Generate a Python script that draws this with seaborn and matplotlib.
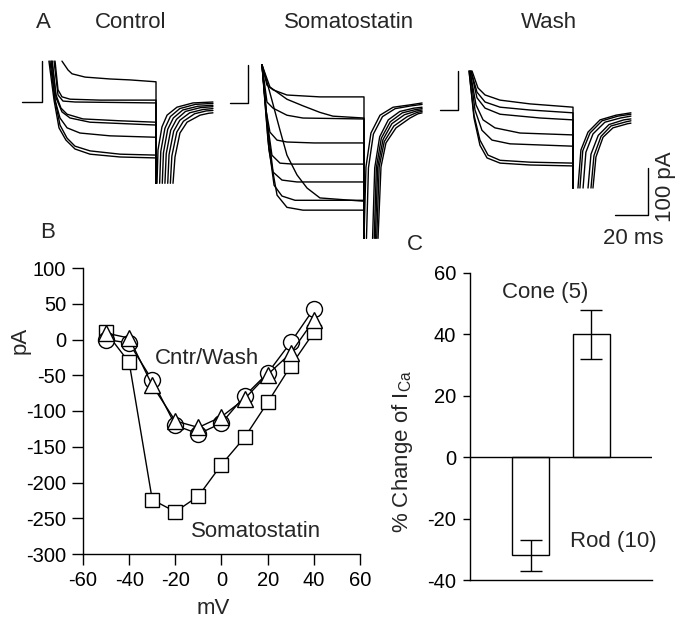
import numpy as np
import pandas as pd
import matplotlib
matplotlib.use("Agg")
import matplotlib.pyplot as plt
import seaborn as sns

sns.set_theme(style="white")
plt.rcParams['font.family'] = ['Liberation Sans', 'DejaVu Sans']
plt.rcParams['mathtext.fontset'] = 'custom'
plt.rcParams['mathtext.rm'] = 'Liberation Sans'
plt.rcParams['mathtext.it'] = 'Liberation Sans'
plt.rcParams['axes.unicode_minus'] = False

# ---------------- Panel B data (I-V relation) ----------------
mv = [-50, -40, -30, -20, -10, 0, 10, 20, 30, 40]
cntr_pa = [0, -5, -57, -120, -132, -117, -79, -47, -4, 43]
wash_pa = [9, 2, -64, -114, -123, -108, -83, -49, -19, 27]
soma_pa = [10, -32, -224, -241, -219, -175, -137, -88, -37, 10]
b_xticks = [-60, -40, -20, 0, 20, 40, 60]
b_yticks = [-300, -250, -200, -150, -100, -50, 0, 50, 100]

# ---------------- Panel C data ----------------
cells = ["Rod", "Cone"]
pct_change = [-32, 40]
pct_sem = [5, 8]
c_yticks = [-40, -20, 0, 20, 40, 60]

# ---------------- Panel A data (currents, ms / pA) ----------------
# Control
ctrl_base_t = [-12, 0, 0]
ctrl_base_i = [0, 0, 87]
ctrl_t = [
    [12.1, 15.8, 18.2, 26.1, 41.2, 53.3, 69.1],
    [7.9, 9.7, 12.1, 17.0, 35.2, 69.1],
    [7.3, 9.7, 12.7, 20.0, 69.1],
    [6.1, 8.5, 11.5, 15.2, 24.8, 47.3, 69.1],
    [6.1, 8.5, 12.1, 17.0, 29.1, 69.1],
    [5.5, 7.9, 10.9, 15.2, 23.0, 41.2, 69.1],
    [4.8, 7.9, 10.9, 15.2, 20.0, 29.1, 47.3, 69.1],
    [4.2, 7.3, 10.3, 14.5, 20.0, 29.1, 47.3, 69.1],
]
ctrl_i = [
    [87, 68, 60, 53, 49, 47, 43],
    [87, 26, 11, 6, 4, 4],
    [87, 15, 2, 0, -2],
    [87, 15, -13, -26, -36, -40, -43],
    [87, 9, -21, -34, -43, -49],
    [87, 4, -34, -55, -66, -72, -75],
    [87, 4, -49, -77, -94, -104, -111, -113],
    [87, 4, -55, -81, -100, -111, -117, -119],
]
ctrl_end_t, ctrl_clip = 69.1, -173
ctrl_tail_t = [
    [69.7, 70.3, 72.7, 75.8, 81.8, 91.5, 103.6],
    [71.3, 72.0, 74.5, 77.8, 83.5, 93.0, 103.6],
    [72.9, 73.6, 76.2, 79.6, 85.3, 94.5, 103.6],
    [74.5, 75.3, 78.0, 81.5, 87.0, 96.0, 103.6],
    [76.2, 77.0, 79.8, 83.5, 89.5, 97.5, 103.6],
    [77.8, 78.7, 81.7, 85.7, 92.5, 99.5, 103.6],
    [79.4, 80.6, 83.6, 87.9, 95.8, 101.0, 103.6],
]
ctrl_tail_i = [
    [-173, -102, -53, -28, -11, -2, 0],
    [-173, -105, -56, -31, -14, -5, -3],
    [-173, -108, -58, -34, -17, -9, -7],
    [-173, -110, -60, -37, -20, -12, -10],
    [-173, -112, -62, -39, -23, -16, -14],
    [-173, -115, -64, -41, -25, -19, -18],
    [-173, -117, -66, -43, -28, -24, -23],
]

# Somatostatin
soma_base_t = [-11, 0, 0]
soma_base_i = [0, 0, 81]
soma_t = [
    [8.5, 11.5, 15.2, 23.6, 43.6, 70.3],
    [8.5, 13.3, 23.6, 33.3, 43.6, 51.5, 70.3],
    [8.5, 11.5, 15.2, 23.6, 33.3, 70.3],
    [8.5, 10.9, 13.3, 17.6, 23.6, 40.0, 70.3],
    [8.5, 11.5, 14.5, 19.4, 27.3, 70.3],
    [8.5, 12.1, 15.2, 20.6, 29.7, 70.3],
    [8.5, 12.1, 15.8, 20.6, 28.5, 70.3],
    [8.5, 10.3, 14.5, 19.4, 23.6, 29.7, 35.8, 43.6, 70.3],
    [8.5, 12.7, 17.6, 23.6, 33.3, 70.3],
]
soma_i = [
    [81, 38, 28, 17, 13, 13],
    [81, 34, 8, -6, -20, -28, -32],
    [81, 2, -11, -26, -32, -34],
    [81, -15, -62, -79, -83, -85, -85],
    [81, -36, -111, -128, -130, -130],
    [81, -58, -147, -164, -168, -168],
    [81, -79, -175, -198, -207, -207],
    [81, 60, 6, -58, -111, -153, -181, -202, -209],
    [81, -100, -196, -222, -228, -228],
]
soma_end_t, soma_clip = 70.3, -288
soma_tail_t = [
    [70.3, 71.5, 74.5, 80.0, 87.9, 98.2, 105.5],
    [71.8, 73.0, 76.0, 81.5, 89.2, 99.0, 105.5],
    [75.5, 76.8, 79.8, 85.0, 92.0, 100.5, 105.5],
    [76.5, 77.8, 80.8, 86.2, 93.5, 101.5, 105.5],
    [77.2, 78.6, 81.8, 87.2, 94.8, 102.0, 105.5],
    [78.0, 79.5, 82.6, 88.4, 96.5, 102.5, 105.5],
    [78.8, 80.6, 83.6, 89.7, 98.2, 103.0, 105.5],
]
soma_tail_i = [
    [-288, -136, -64, -26, -9, -4, 0],
    [-288, -138, -66, -29, -12, -6, -3],
    [-288, -138, -72, -36, -18, -11, -9],
    [-288, -137, -75, -40, -21, -14, -12],
    [-288, -137, -78, -44, -25, -17, -15],
    [-288, -136, -82, -49, -29, -20, -18],
    [-288, -136, -85, -53, -32, -23, -21],
]

# Wash
wash_base_t = [-11, 0, 0]
wash_base_i = [0, 0, 83]
wash_t = [
    [8.5, 12.1, 16.4, 25.5, 43.6, 69.7],
    [7.9, 11.5, 16.4, 25.5, 43.6, 69.7],
    [7.9, 11.5, 16.4, 25.5, 49.7, 69.7],
    [7.3, 10.9, 15.2, 22.4, 37.6, 69.7],
    [7.3, 10.3, 14.5, 20.6, 31.5, 69.7],
    [6.7, 9.7, 13.3, 18.2, 25.5, 43.6, 69.7],
    [6.7, 9.7, 13.3, 17.6, 25.5, 43.6, 69.7],
]
wash_i = [
    [83, 47, 32, 21, 13, 6],
    [83, 38, 17, 6, 0, -6],
    [83, 26, 4, -9, -17, -21],
    [83, 11, -21, -38, -49, -53],
    [83, 0, -43, -64, -72, -77],
    [83, -11, -64, -96, -107, -111, -113],
    [83, -17, -75, -102, -113, -117, -119],
]
wash_end_t, wash_clip = 69.7, -166
wash_tail_t = [
    [72.7, 74.5, 78.8, 86.1, 95.8, 104.8],
    [73.9, 75.6, 80.0, 87.3, 97.0, 104.8],
    [75.8, 77.5, 81.8, 89.0, 98.5, 104.8],
    [78.8, 80.6, 85.0, 91.5, 100.5, 104.8],
    [80.6, 82.4, 86.7, 92.7, 102.0, 104.8],
    [81.8, 83.6, 87.9, 93.9, 103.0, 104.8],
]
wash_tail_i = [
    [-166, -85, -47, -21, -11, -6],
    [-166, -87, -49, -23, -13, -9],
    [-166, -90, -51, -26, -17, -13],
    [-166, -94, -54, -31, -21, -19],
    [-166, -97, -56, -34, -25, -23],
    [-166, -100, -58, -38, -29, -28],
]

scale_ms = 20
scale_pa = 100

# ---------------- Figure ----------------
W, H = 686, 620
fig = plt.figure(figsize=(W / 100, H / 100), dpi=100)
FS = 16
TFS = 14.5
PX_PER_MS = 33 / 20.0
PX_PER_PA = 47 / 100.0


def trace_axes(x0, y0, tlim, ilim):
    left = x0 + tlim[0] * PX_PER_MS
    right = x0 + tlim[1] * PX_PER_MS
    top = y0 - ilim[1] * PX_PER_PA
    bottom = y0 - ilim[0] * PX_PER_PA
    ax = fig.add_axes([left / W, 1 - bottom / H, (right - left) / W, (bottom - top) / H])
    ax.set_xlim(tlim)
    ax.set_ylim(ilim)
    ax.axis('off')
    ax.patch.set_alpha(0)
    return ax


def build_df(base_t, base_i, tr_t, tr_i, end_t, clip, tail_t, tail_i):
    rows = []
    uid = 0
    for t, i in zip(base_t, base_i):
        rows.append((uid, t, i))
    uid += 1
    for ts, is_ in zip(tr_t, tr_i):
        for t, i in zip(ts, is_):
            rows.append((uid, t, i))
        rows.append((uid, end_t, clip))
        uid += 1
    for ts, is_ in zip(tail_t, tail_i):
        for t, i in zip(ts, is_):
            rows.append((uid, t, i))
        uid += 1
    return pd.DataFrame(rows, columns=["id", "t", "I"])


groups = [
    (42, 102, (-15, 110), ctrl_base_t, ctrl_base_i, ctrl_t, ctrl_i, ctrl_end_t, ctrl_clip, ctrl_tail_t, ctrl_tail_i),
    (248, 103, (-15, 110), soma_base_t, soma_base_i, soma_t, soma_i, soma_end_t, soma_clip, soma_tail_t, soma_tail_i),
    (458, 110, (-15, 135), wash_base_t, wash_base_i, wash_t, wash_i, wash_end_t, wash_clip, wash_tail_t, wash_tail_i),
]
trace_axs = []
for (x0, y0, tlim, bt, bi, tt, ti, et, cl, tlt, tli) in groups:
    ax = trace_axes(x0, y0, tlim, (-300, 100))
    df = build_df(bt, bi, tt, ti, et, cl, tlt, tli)
    sns.lineplot(data=df, x="t", y="I", units="id", estimator=None, sort=False,
                 color="black", lw=1.0, ax=ax)
    ax.axis('off')
    trace_axs.append(ax)

# scale bar in wash axes
axw = trace_axs[2]
corner_t, corner_i = 115.2, -223.6
axw.plot([corner_t - scale_ms, corner_t, corner_t],
         [corner_i, corner_i, corner_i + scale_pa], color="black", lw=1.0)
axw.text(corner_t + 10.5, corner_i + scale_pa * 0.6, f"{scale_pa} pA", rotation=90,
         ha="center", va="center", fontsize=FS)
axw.text(corner_t - 9, corner_i - 50, f"{scale_ms} ms", ha="center", va="center", fontsize=FS)

# titles
fig.text(43 / W, 1 - 22 / H, "A", ha="center", va="center", fontsize=FS)
fig.text(131 / W, 1 - 22 / H, "Control", ha="center", va="center", fontsize=FS)
fig.text(349 / W, 1 - 22 / H, "Somatostatin", ha="center", va="center", fontsize=FS)
fig.text(549 / W, 1 - 22 / H, "Wash", ha="center", va="center", fontsize=FS)
fig.text(48 / W, 1 - 232 / H, "B", ha="center", va="center", fontsize=FS)
fig.text(415 / W, 1 - 245 / H, "C", ha="center", va="center", fontsize=FS)

# ---------------- Panel B ----------------
axb = fig.add_axes([83 / W, 1 - 554 / H, 277 / W, 286 / H])
mk = dict(markerfacecolor="white", markeredgecolor="black", markeredgewidth=1.0)
sns.lineplot(x=mv, y=soma_pa, ax=axb, color="black", lw=1.0, marker="s", markersize=10, **mk)
sns.lineplot(x=mv, y=cntr_pa, ax=axb, color="black", lw=1.0, marker="o", markersize=11.5, **mk)
sns.lineplot(x=mv, y=wash_pa, ax=axb, color="black", lw=1.0, marker="^", markersize=11.5, **mk)
axb.set_xlim(-60, 60)
axb.set_ylim(-300, 100)
axb.set_xticks(b_xticks)
axb.set_yticks(b_yticks)
for s in ["top", "right"]:
    axb.spines[s].set_visible(False)
for s in ["left", "bottom"]:
    axb.spines[s].set_color("black")
    axb.spines[s].set_linewidth(1.0)
axb.tick_params(direction="out", length=8, width=1, colors="black", labelsize=TFS, pad=4,
                left=True, bottom=True)
axb.set_xlabel("mV", fontsize=FS)
axb.set_ylabel("pA", fontsize=FS)
axb.xaxis.set_label_coords(0.469, -0.155)
axb.yaxis.set_label_coords(-0.19, 0.748)
axb.text(-6.1, -26, "Cntr/Wash", ha="center", va="center", fontsize=FS)
axb.text(14.8, -269, "Somatostatin", ha="center", va="center", fontsize=FS)

# ---------------- Panel C ----------------
axc = fig.add_axes([470 / W, 1 - 580 / H, 182 / W, 307 / H])
sns.barplot(x=cells, y=pct_change, order=cells, ax=axc, width=0.61, color="white",
            edgecolor="black", linewidth=1.0, errorbar=None, saturation=1)
axc.errorbar(x=np.arange(len(cells)), y=pct_change, yerr=pct_sem, fmt="none",
             ecolor="black", elinewidth=1.0, capsize=8, capthick=1.0)
axc.axhline(0, color="black", lw=1.0)
axc.set_xlim(-1, 2)
axc.set_ylim(-40, 60)
axc.set_xticks([])
axc.set_yticks(c_yticks)
for s in ["top", "right"]:
    axc.spines[s].set_visible(False)
for s in ["left", "bottom"]:
    axc.spines[s].set_color("black")
    axc.spines[s].set_linewidth(1.0)
axc.tick_params(axis="y", direction="out", length=5, width=1, colors="black", labelsize=TFS, pad=5,
                left=True)
axc.set_xlabel("")
axc.set_ylabel(r"% Change of I$_{\mathrm{Ca}}$", fontsize=FS)
axc.yaxis.set_label_coords(-0.30, 0.42)
axc.text(0.236, 53.5, "Cone (5)", ha="center", va="center", fontsize=FS)
axc.text(1.356, -27.4, "Rod (10)", ha="center", va="center", fontsize=FS)

fig.savefig("out.png", dpi=100)
